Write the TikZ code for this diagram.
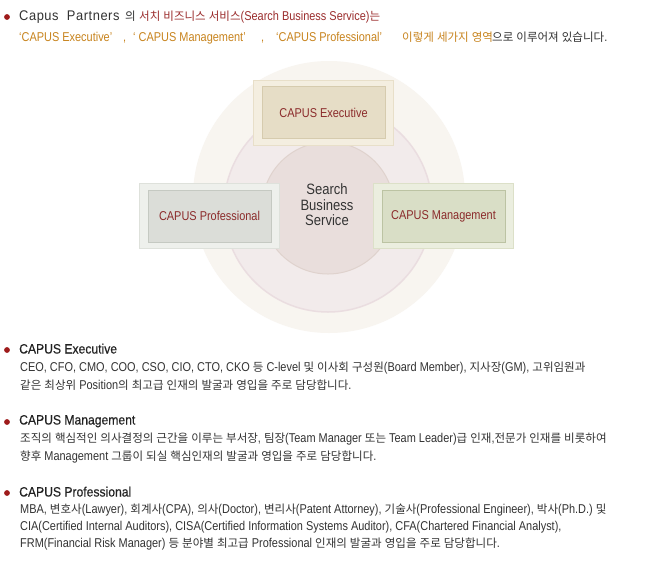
\documentclass[tikz,border=0pt]{standalone}
\usepackage{fontspec}
\setmainfont{Liberation Sans}[FakeStretch=0.855]
\newfontfamily\lafont{Liberation Sans}[FakeStretch=0.855]
\newfontfamily\hdfont{Liberation Sans}[FakeStretch=0.9,FakeBold=0.4]
\newfontfamily\ctfont{Liberation Sans}[FakeStretch=0.87]
\newfontfamily\krfont{Noto Sans CJK KR}[Scale=0.9]
\newfontfamily\capfont{Liberation Sans}[LetterSpace=4,FakeStretch=0.92]
\XeTeXinterchartokenstate=1
\newXeTeXintercharclass\KRclass
\makeatletter
\count@="AC00
\loop
  \XeTeXcharclass\count@=\KRclass
  \advance\count@ by 1
\ifnum\count@<"D7A4 \repeat
\makeatother
\XeTeXinterchartoks 0 \KRclass = {\krfont}
\XeTeXinterchartoks 4095 \KRclass = {\krfont}
\XeTeXinterchartoks \KRclass 0 = {\lafont}
\XeTeXinterchartoks \KRclass 4095 = {\lafont}
\definecolor{bulletred}{HTML}{9E1B1B}
\definecolor{darktext}{HTML}{333333}
\definecolor{headtext}{HTML}{222222}
\definecolor{headred}{HTML}{9B2D2D}
\definecolor{headorange}{HTML}{C8841E}
\definecolor{boxtext}{HTML}{8B2B2B}
\definecolor{circA}{HTML}{F8F5F0}
\definecolor{circB}{HTML}{F2EBEB}
\definecolor{circBd}{HTML}{EADDE0}
\definecolor{circC}{HTML}{E9DEDC}
\definecolor{circCd}{HTML}{DFD2CD}
\definecolor{exO}{HTML}{F4EEE0}
\definecolor{exOd}{HTML}{E8DFC9}
\definecolor{exI}{HTML}{E6DDC6}
\definecolor{exId}{HTML}{D6CBAE}
\definecolor{mgO}{HTML}{EBEEDF}
\definecolor{mgOd}{HTML}{DCE0C8}
\definecolor{mgI}{HTML}{D9DEC6}
\definecolor{mgId}{HTML}{BCC3A3}
\definecolor{prO}{HTML}{EEF0EC}
\definecolor{prOd}{HTML}{DEE1DB}
\definecolor{prI}{HTML}{DBDDD8}
\definecolor{prId}{HTML}{C5C9C2}
\begin{document}
\begin{tikzpicture}[x=1pt,y=-1pt,
  outerbox/.style={rectangle,inner sep=0pt,minimum width=140pt,minimum height=65pt,line width=1pt},
  innerbox/.style={rectangle,inner sep=0pt,minimum width=123pt,minimum height=52pt,line width=0.8pt,
     text=boxtext,font=\fontsize{12.8}{14}\selectfont},
  fixedline/.style={anchor=west,inner sep=0pt,text height=9.5pt,text depth=2.5pt},
  bodyline/.style={fixedline,text=darktext,font=\fontsize{12.8}{14}\selectfont},
  headline/.style={fixedline,text=headtext,font=\hdfont\fontsize{13.5}{15}\selectfont},
  topline/.style={fixedline,font=\fontsize{12.8}{14}\selectfont},
  bulletdot/.style={circle,fill=bulletred,inner sep=0pt,minimum size=5.8pt}]
\fill[white] (0,0) rectangle (660,560);
\useasboundingbox (0,0) rectangle (660,560);
% header
\node[bulletdot] (b0) at (7,17) {};
\node[fixedline,text=darktext] (h1a) at (19,17) {\capfont\fontsize{14}{16}\selectfont Capus\ \ Partners};
\node[topline,text=darktext] (h1b) at (125,17) {의};
\node[topline,text=headred] (h1c) at (139,17) {서치 비즈니스 서비스(Search Business Service)는};
\node[topline,text=headorange] (h2a) at (19,38) {‘CAPUS Executive’};
\node[topline,text=headorange] (h2b) at (123,38) {,};
\node[topline,text=headorange] (h2c) at (133,38) {‘\ CAPUS Management’};
\node[topline,text=headorange] (h2d) at (261,38) {,};
\node[topline,text=headorange] (h2e) at (276,38) {‘CAPUS Professional’};
\node[topline,text=headorange] (h2f) at (402,38) {이렇게 세가지 영역};
\node[topline,text=darktext] (h2g) at (492,38) {으로 이루어져 있습니다.};
% circles
\fill[circA] (329,197) circle (136);
\draw[circBd,fill=circB,line width=1.5pt] (328,208) circle (104);
\draw[circCd,fill=circC,line width=1pt] (328,208) circle (66);
\node[align=center,text=darktext,font=\ctfont\fontsize{15}{15.5}\selectfont,inner sep=0pt] (core) at (327,205) {Search\\Business\\Service};
% boxes
\node[outerbox,fill=exO,draw=exOd] (exo) at (323,112.5) {};
\node[innerbox,fill=exI,draw=exId] (exi) at (323.5,112.5) {CAPUS Executive};
\node[outerbox,fill=prO,draw=prOd] (pro) at (209,215.5) {};
\node[innerbox,fill=prI,draw=prId] (pri) at (209.5,216) {CAPUS Professional};
\node[outerbox,fill=mgO,draw=mgOd] (mgo) at (443,215.5) {};
\node[innerbox,fill=mgI,draw=mgId] (mgi) at (443.5,216) {CAPUS Management};
% bottom text
\node[bulletdot] (b1) at (7,350) {};
\node[headline] (t1) at (19,350) {CAPUS Executive};
\node[bodyline] (t1a) at (20,368) {CEO, CFO, CMO, COO, CSO, CIO, CTO, CKO 등 C-level 및 이사회 구성원(Board Member), 지사장(GM), 고위임원과};
\node[bodyline] (t1b) at (20,386) {같은 최상위 Position의 최고급 인재의 발굴과 영입을 주로 담당합니다.};
\node[bulletdot] (b2) at (7,422) {};
\node[headline] (t2) at (19,421) {CAPUS Management};
\node[bodyline] (t2a) at (20,439) {조직의 핵심적인 의사결정의 근간을 이루는 부서장, 팀장(Team Manager 또는 Team Leader)급 인재,전문가 인재를 비롯하여};
\node[bodyline] (t2b) at (20,457) {향후 Management 그룹이 되실 핵심인재의 발굴과 영입을 주로 담당합니다.};
\node[bulletdot] (b3) at (7,493) {};
\node[headline] (t3) at (19,493) {CAPUS Professional};
\node[bodyline] (t3a) at (20,510) {MBA, 변호사(Lawyer), 회계사(CPA), 의사(Doctor), 변리사(Patent Attorney), 기술사(Professional Engineer), 박사(Ph.D.) 및};
\node[bodyline] (t3b) at (20,527) {CIA(Certified Internal Auditors), CISA(Certified Information Systems Auditor), CFA(Chartered Financial Analyst),};
\node[bodyline] (t3c) at (20,544) {FRM(Financial Risk Manager) 등 분야별 최고급 Professional 인재의 발굴과 영입을 주로 담당합니다.};
\end{tikzpicture}
\end{document}
